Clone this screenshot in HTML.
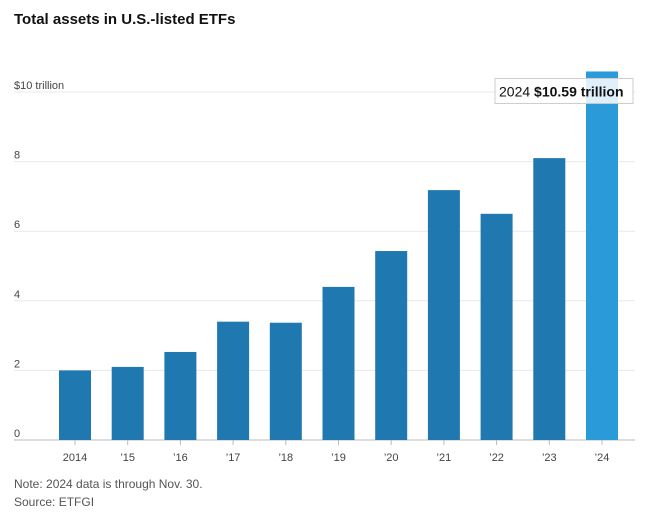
<!DOCTYPE html>
<html><head><meta charset="utf-8"><style>
body{margin:0;background:#fff;font-family:"Liberation Sans",sans-serif;}
#wrap{position:relative;width:652px;height:516px;}
</style></head><body>
<div id="wrap">
<svg id="chart" width="652" height="516">
<text x="14" y="24" font-size="15" font-weight="bold" fill="#111">Total assets in U.S.-listed ETFs</text>
<text x="14" y="488" font-size="12" fill="#555">Note: 2024 data is through Nov. 30.</text>
<text x="14" y="506" font-size="12" fill="#555">Source: ETFGI</text>
</svg>
</div>
<script>
const categories=["2014","’15","’16","’17","’18","’19","’20","’21","’22","’23","’24"];
const values=[2.0,2.1,2.53,3.4,3.37,4.4,5.43,7.18,6.5,8.1,10.59];
const yTicks=[0,2,4,6,8,10];
const yTickLabels=["0","2","4","6","8","$10 trillion"];
const svg=document.getElementById('chart');
const NS="http://www.w3.org/2000/svg";
const y0=440,pxPer=34.8;
function y(v){return y0-v*pxPer;}
function x(i){return 75+i*52.7;}
function mk(t,a){const e=document.createElementNS(NS,t);for(const k in a)e.setAttribute(k,a[k]);svg.appendChild(e);return e;}
yTicks.forEach((t,i)=>{
  const l=mk('line',{x1:14,x2:635,y1:y(t),y2:y(t),stroke:t===0?'#bbb':'#e8e8e8','stroke-width':1});
  
  
  const tx=mk('text',{x:14,y:y(t)-3,'font-size':11,fill:'#444'});
  tx.textContent=yTickLabels[i];
  
  
});
values.forEach((v,i)=>{
  const last=i===values.length-1;
  const r=mk('rect',{x:x(i)-16,y:y(v),width:32,height:y0-y(v),fill:last?'#2b9ad9':'#1f78b0'});
  
  
  const tk=mk('line',{x1:x(i),x2:x(i),y1:y0,y2:y0+5,stroke:'#bbb'});
  
  
  const t=mk('text',{x:x(i),y:y0+21,'font-size':11,fill:'#444','text-anchor':'middle'});
  t.textContent=categories[i];
  
  
});
const li=values.length-1;
const bx=495,bw=138,by=y(values[li])+7;
const box=mk('rect',{x:bx,y:by,width:bw,height:25,fill:'rgba(255,255,255,0.85)',stroke:'#ccc'});


const tt=mk('text',{x:bx+4,y:by+18,'font-size':14,fill:'#111'});
tt.innerHTML='2024 <tspan font-weight="bold">$'+values[li].toFixed(2)+' trillion</tspan>';


</script>
</body></html>
